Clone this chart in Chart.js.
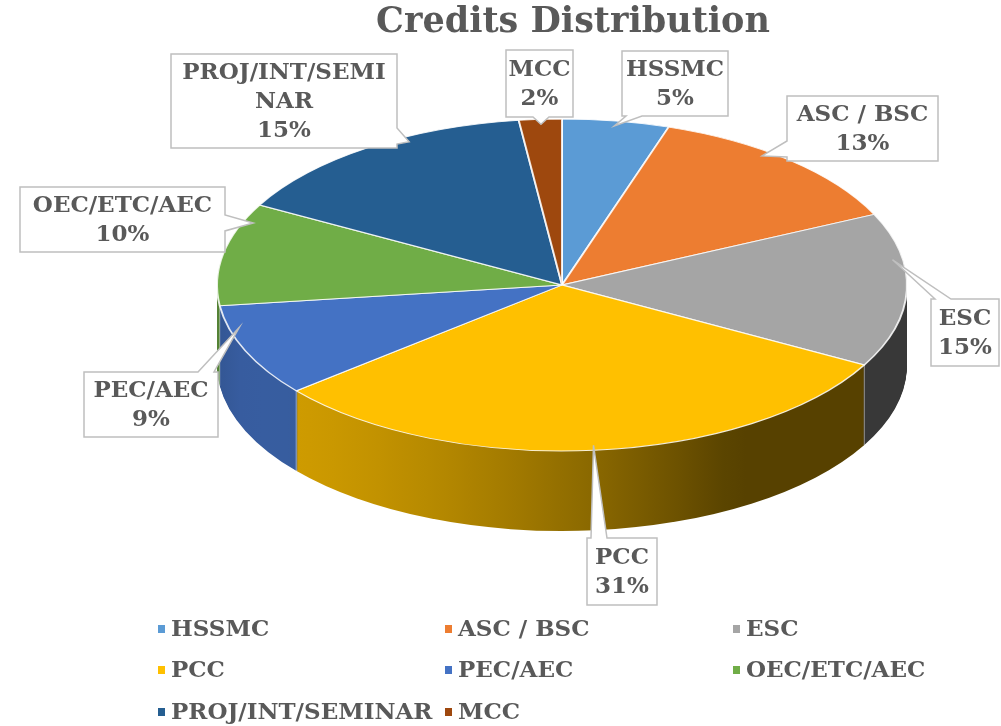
<!DOCTYPE html>
<html><head><meta charset="utf-8">
<script src="https://cdn.jsdelivr.net/npm/chart.js@4.4.1/dist/chart.umd.min.js"></script>
<style>html,body{margin:0;padding:0;background:#fff;overflow:hidden}canvas{display:block}</style>
</head><body>
<canvas id="c" width="1001" height="726"></canvas>
<script>
// ---- data ----
const chartTitle = 'Credits Distribution';
const categories = ['HSSMC','ASC / BSC','ESC','PCC','PEC/AEC','OEC/ETC/AEC','PROJ/INT/SEMINAR','MCC'];
const credits = [5,13,15,31,9,10,15,2];
const sliceColors = ['#5B9BD5','#ED7D31','#A5A5A5','#FFC000','#4472C4','#70AD47','#255E91','#9E480E'];
const calloutText = ['HSSMC','ASC / BSC','ESC','PCC','PEC/AEC','OEC/ETC/AEC','PROJ/INT/SEMI\nNAR','MCC'];

// ---- layout / style ----
const PIE = {cx:562, cy:285, rx:345, ry:166, depth:80};
const BOXES = [ // left, top, width, height, tail edge, anchor fraction along slice
  {l:622,t:51,w:106,h:65,edge:'bottom',at:0.5},
  {l:787,t:96,w:151,h:65,edge:'left',at:0.4},
  {l:931,t:299,w:68,h:67,edge:'top',at:0.3},
  {l:587,t:538,w:70,h:67,edge:'top',at:0.5},
  {l:84,t:372,w:134,h:65,edge:'top',at:0.75},
  {l:20,t:187,w:205,h:65,edge:'right',at:0.83},
  {l:171,t:54,w:226,h:94,edge:'right',at:0.63},
  {l:506,t:50,w:67,h:67,edge:'bottom',at:0.5}
];
const LEG_X = [157,444,732];
const LEG_Y = [629,670,712];
const TEXT_COLOR = '#595959';
const FONT = '"DejaVu Serif", serif';

function shade(hex,f){const n=parseInt(hex.slice(1),16);const r=(n>>16)&255,g=(n>>8)&255,b=n&255;
  return 'rgb('+Math.round(r*f)+','+Math.round(g*f)+','+Math.round(b*f)+')';}
function lightAt(u){const psi=Math.asin(Math.max(-1,Math.min(1,u)));const c=Math.cos(psi+Math.PI/3);return 0.34+0.475*Math.max(c,0);}

const pie3d = {
  id:'pie3d',
  beforeDatasetsDraw(chart){
    const ctx=chart.ctx;
    const meta=chart.getDatasetMeta(0);
    const els=meta.data;
    const colors=chart.data.datasets[0].backgroundColor;
    const R=els[0].outerRadius,x0=els[0].x,y0=els[0].y;
    const sx=PIE.rx/R,sy=PIE.ry/R;
    const apply=(dy)=>{ctx.translate(PIE.cx,PIE.cy+dy);ctx.scale(sx,sy);ctx.translate(-x0,-y0);};
    const sides=els.map((el,i)=>{
      const g=ctx.createLinearGradient(x0-R,0,x0+R,0);
      for(let k=0;k<=30;k++){const t=k/30;g.addColorStop(t,shade(colors[i],lightAt(2*t-1)));}
      const c=Object.create(el);
      c.options=Object.assign({},el.options,{backgroundColor:g,borderWidth:0});
      return c;
    });
    for(let d=PIE.depth;d>=1;d--){
      ctx.save();apply(d);
      sides.forEach(c=>c.draw(ctx));
      ctx.restore();
    }
    ctx.save();
    ctx.strokeStyle='rgba(255,255,255,0.45)';ctx.lineWidth=1;
    els.forEach(el=>{
      const a=el.startAngle;
      if(Math.sin(a)>0.05){
        const X=PIE.cx+Math.cos(a)*PIE.rx,Y=PIE.cy+Math.sin(a)*PIE.ry;
        ctx.beginPath();ctx.moveTo(X,Y);ctx.lineTo(X,Y+PIE.depth);ctx.stroke();
      }
    });
    ctx.restore();
    ctx.save();apply(0);
    meta.controller.draw();
    ctx.restore();
    return false;
  }
};

function calloutPath(ctx,L,T,W,H,ax,ay,edge){
  const Rt=L+W,B=T+H,hw=8;
  const cxB=Math.min(Math.max(ax,L+hw+4),Rt-hw-4);
  const cyB=Math.min(Math.max(ay,T+hw+4),B-hw-4);
  ctx.beginPath();ctx.moveTo(L,T);
  if(edge==='top'){ctx.lineTo(cxB-hw,T);ctx.lineTo(ax,ay);ctx.lineTo(cxB+hw,T);}
  ctx.lineTo(Rt,T);
  if(edge==='right'){ctx.lineTo(Rt,cyB-hw);ctx.lineTo(ax,ay);ctx.lineTo(Rt,cyB+hw);}
  ctx.lineTo(Rt,B);
  if(edge==='bottom'){ctx.lineTo(cxB+hw,B);ctx.lineTo(ax,ay);ctx.lineTo(cxB-hw,B);}
  ctx.lineTo(L,B);
  if(edge==='left'){ctx.lineTo(L,cyB+hw);ctx.lineTo(ax,ay);ctx.lineTo(L,cyB-hw);}
  ctx.closePath();
}

const overlay = {
  id:'overlay',
  afterDraw(chart){
    const ctx=chart.ctx;
    const meta=chart.getDatasetMeta(0);
    const ds=chart.data.datasets[0];
    const total=ds.data.reduce((a,b)=>a+b,0);
    ctx.save();
    ctx.fillStyle=TEXT_COLOR;ctx.textAlign='center';ctx.textBaseline='middle';
    ctx.font='bold 35px '+FONT;
    ctx.fillText(chartTitle,573,23);
    ctx.restore();
    meta.data.forEach((el,i)=>{
      const b=BOXES[i];
      const ang=el.startAngle+(el.endAngle-el.startAngle)*b.at;
      const ax=PIE.cx+Math.cos(ang)*0.97*PIE.rx, ay=PIE.cy+Math.sin(ang)*0.97*PIE.ry;
      ctx.save();
      calloutPath(ctx,b.l,b.t,b.w,b.h,ax,ay,b.edge);
      ctx.fillStyle='#ffffff';ctx.fill();
      ctx.strokeStyle='#bfbfbf';ctx.lineWidth=1.5;ctx.stroke();
      const lines=calloutText[i].split('\n').concat([Math.round(ds.data[i]/total*100)+'%']);
      ctx.fillStyle=TEXT_COLOR;ctx.textAlign='center';ctx.textBaseline='middle';
      ctx.font='bold 23px '+FONT;
      const lh=29,cyc=b.t+b.h/2+1;
      lines.forEach((s,k)=>ctx.fillText(s,b.l+b.w/2,cyc+(k-(lines.length-1)/2)*lh));
      ctx.restore();
    });
    ctx.save();
    ctx.font='bold 23px '+FONT;ctx.textBaseline='middle';ctx.textAlign='left';
    chart.data.labels.forEach((lab,i)=>{
      const x=LEG_X[i%3],y=LEG_Y[Math.floor(i/3)];
      ctx.fillStyle=ds.backgroundColor[i];ctx.fillRect(x+1,y-4,7,8);
      ctx.fillStyle=TEXT_COLOR;ctx.fillText(lab,x+14,y+1);
    });
    ctx.restore();
  }
};

new Chart(document.getElementById('c'),{
  type:'pie',
  data:{labels:categories,datasets:[{data:credits,backgroundColor:sliceColors,borderColor:'rgba(255,255,255,0.85)',borderWidth:2,clip:false}]},
  options:{responsive:false,animation:false,events:[],
    layout:{padding:{left:150,right:150,top:10,bottom:10}},
    plugins:{legend:{display:false},title:{display:false},tooltip:{enabled:false}}},
  plugins:[pie3d,overlay]
});
</script>
</body></html>
